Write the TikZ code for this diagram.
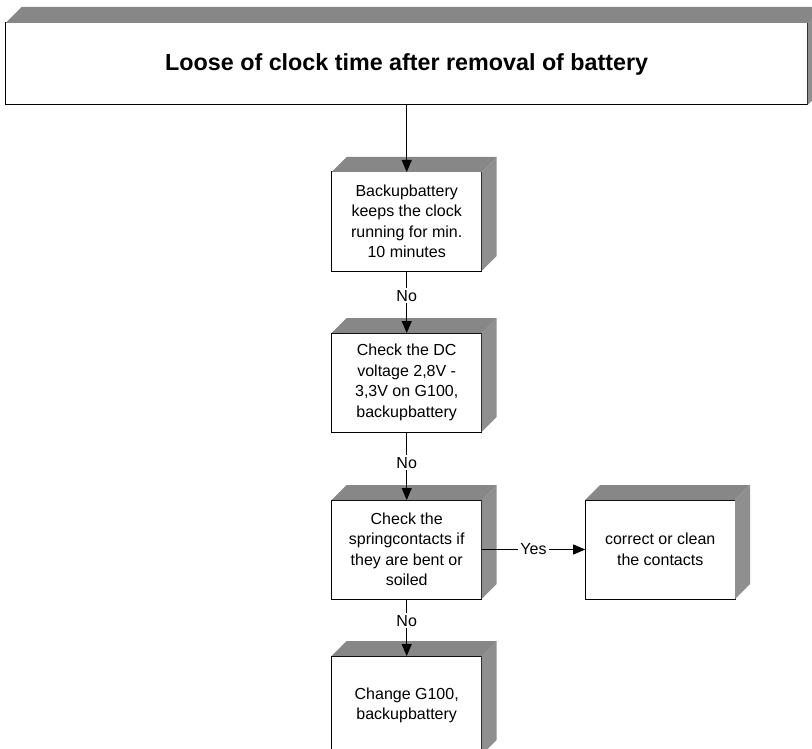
\documentclass[tikz,border=0pt]{standalone}
\usepackage{fontspec}
\setmainfont{Liberation Sans}
\usetikzlibrary{positioning,arrows.meta}

\definecolor{topgray}{gray}{0.53}
\definecolor{sidegray}{gray}{0.56}

% gray top and side faces behind a box
\newcommand{\boxfaces}[2]{%
  \fill[topgray] (#1.north west) -- ++(#2,-#2) -- ([shift={(#2,-#2)}]#1.north east) -- (#1.north east) -- cycle;
  \fill[sidegray] (#1.north east) -- ([shift={(#2,-#2)}]#1.north east) -- ([shift={(#2,-#2)}]#1.south east) -- (#1.south east) -- cycle;}

\begin{document}
\begin{tikzpicture}[
		x=1pt,y=-1pt,
		every node/.style={font=\fontsize{16}{20.5}\selectfont},
		stepbox/.style={draw, fill=white, line width=1pt, minimum width=150pt, minimum height=99pt,
			inner sep=0pt, outer sep=0pt, align=center},
		titlebox/.style={draw, fill=white, line width=1pt, minimum width=802pt, minimum height=82pt,
			inner sep=0pt, outer sep=0pt, font=\bfseries\fontsize{23.3}{28}\selectfont},
		link/.style={line width=0.9pt, -{Triangle[length=12pt,width=10pt]}},
		answer/.style={fill=white, inner sep=2pt}
	]
	\clip (0,0) rectangle (812,749);
	\node[titlebox] (loss) at (406.7,64) {Loose of clock time after removal of battery};
	\node[stepbox, below=67pt of loss] (backup) {Backupbattery\\keeps the clock\\running for min.\\10 minutes};
	\node[stepbox, below=62pt of backup] (voltage) {Check the DC\\voltage 2,8V -\\3,3V on G100,\\backupbattery};
	\node[stepbox, below=68pt of voltage] (springs) {Check the\\springcontacts if\\they are bent or\\soiled};
	\node[stepbox, right=103.5pt of springs] (clean) {correct or clean\\the contacts};
	\node[stepbox, below=57pt of springs] (change) {Change G100,\\backupbattery};

	\boxfaces{loss}{16}
	\boxfaces{backup}{15}
	\boxfaces{voltage}{15}
	\boxfaces{springs}{15}
	\boxfaces{clean}{15}
	\boxfaces{change}{15}

	\draw[link] (loss) -- (backup);
	\draw[link] (backup) -- node[answer, pos=.4] {No} (voltage);
	\draw[link] (voltage) -- node[answer, pos=.45] {No} (springs);
	\draw[link] (springs) -- node[answer, pos=.5] {Yes} (clean);
	\draw[link] (springs) -- node[answer, pos=.38] {No} (change);
\end{tikzpicture}
\end{document}
